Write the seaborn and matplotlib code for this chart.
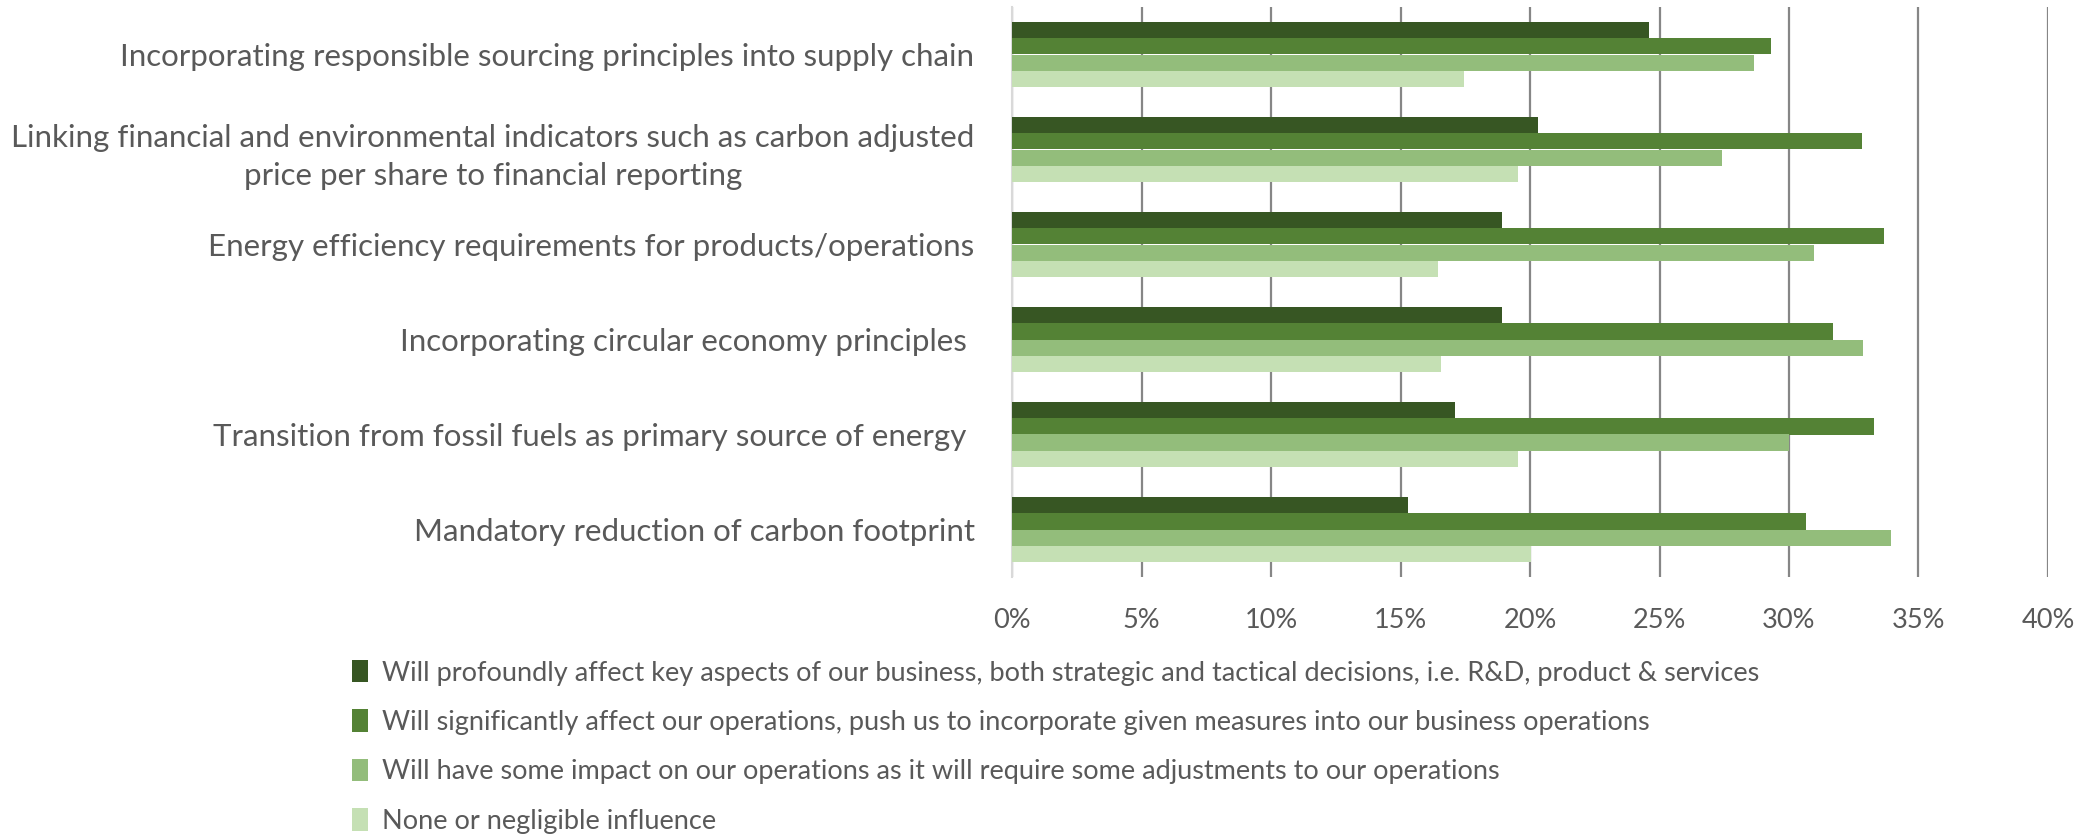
import matplotlib
matplotlib.use("Agg")
import matplotlib.pyplot as plt
import seaborn as sns
import pandas as pd
from matplotlib.patches import Patch
from matplotlib.ticker import FuncFormatter

categories = [
    "Incorporating responsible sourcing principles into supply chain",
    "Linking financial and environmental indicators such as carbon adjusted\nprice per share to financial reporting",
    "Energy efficiency requirements for products/operations",
    "Incorporating circular economy principles ",
    "Transition from fossil fuels as primary source of energy ",
    "Mandatory reduction of carbon footprint",
]
series_names = [
    "Will profoundly affect key aspects of our business, both strategic and tactical decisions, i.e. R&D, product & services",
    "Will significantly affect our operations, push us to incorporate given measures into our business operations",
    "Will have some impact on our operations as it will require some adjustments to our operations",
    "None or negligible influence",
]
profound = [24.6, 20.3, 18.9, 18.9, 17.1, 15.3]
significant = [29.3, 32.8, 33.65, 31.7, 33.3, 30.65]
some_impact = [28.65, 27.4, 30.95, 32.85, 30.0, 33.95]
negligible = [17.45, 19.55, 16.45, 16.55, 19.55, 20.05]
colors = ["#375623", "#548235", "#93BD7B", "#C5E0B4"]
xticks = [0, 5, 10, 15, 20, 25, 30, 35, 40]

rows = []
for s, vals in zip(series_names, [profound, significant, some_impact, negligible]):
    for c, v in zip(categories, vals):
        rows.append({"category": c, "series": s, "value": v})
df = pd.DataFrame(rows)

sns.set_theme(style="white")
plt.rcParams["font.family"] = ["Lato", "DejaVu Sans"]
text_color = "#595959"

fig = plt.figure(figsize=(20.79, 8.35), dpi=100)
ax = fig.add_axes([1012 / 2079, 1 - 577 / 835, (2048 - 1012) / 2079, 570 / 835])

sns.barplot(data=df, y="category", x="value", hue="series", order=categories,
            hue_order=series_names, palette=colors, orient="h", width=0.69,
            linewidth=0, saturation=1, ax=ax, legend=False, zorder=3)

ax.set_xlim(0, 40)
ax.set_ylim(5.5, -0.5)
ax.set_xticks(xticks)
ax.xaxis.set_major_formatter(FuncFormatter(lambda v, p: f"{v:.0f}%"))
ax.grid(axis="x", color="#868686", linewidth=1.6, zorder=0)
ax.grid(axis="y", visible=False)
ax.set_axisbelow(True)
for side in ["top", "right", "bottom"]:
    ax.spines[side].set_visible(False)
ax.spines["left"].set_color("#d9d9d9")
ax.spines["left"].set_linewidth(1.5)
ax.set_xlabel("")
ax.set_ylabel("")
ax.tick_params(axis="x", length=0, pad=22, labelsize=19.5, labelcolor=text_color)
ax.tick_params(axis="y", length=0, pad=27, labelsize=22.5, labelcolor=text_color)
for lab in ax.get_yticklabels():
    lab.set_multialignment("center")
    lab.set_linespacing(1.45)

handles = [Patch(facecolor=c, edgecolor="none") for c in colors]
fig.legend(handles, series_names, loc="upper left", bbox_to_anchor=(352 / 2079, 1 - 660 / 835),
           frameon=False, fontsize=19.5, labelcolor=text_color, handlelength=0.6,
           handleheight=0.9, handletextpad=0.5, labelspacing=0.88, borderpad=0, borderaxespad=0)

fig.savefig("out.png", dpi=100)
